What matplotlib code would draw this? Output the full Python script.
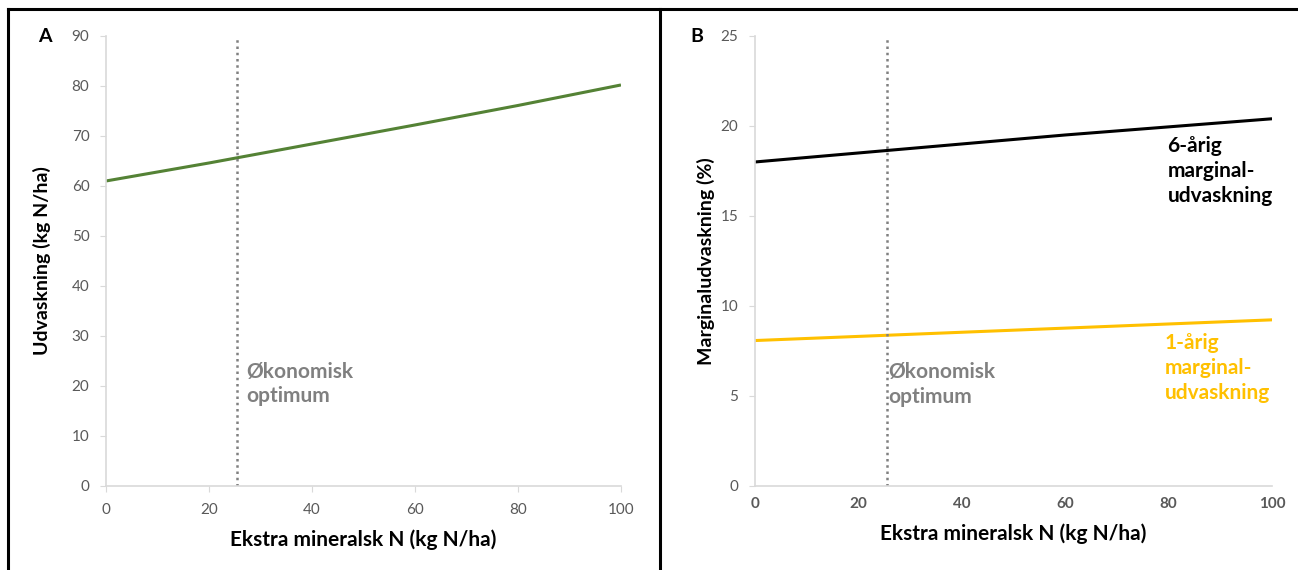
import matplotlib.pyplot as plt
from matplotlib.lines import Line2D

plt.rcParams["font.family"] = ["Lato", "DejaVu Sans"]

# ── Data ──────────────────────────────────────────────────────────────
n_extra = [0, 20, 40, 60, 80, 100]
udvaskning = [61.0, 64.6, 68.4, 72.2, 76.1, 80.2]
marginal_6aarig = [18.0, 18.5, 19.0, 19.5, 19.95, 20.4]
marginal_1aarig = [8.08, 8.31, 8.54, 8.77, 9.0, 9.23]
optimum_n = 25.5

tick_col = "#595959"
spine_col = "#d9d9d9"
green = "#548235"
yellow = "#ffc000"
dot_col = "#808080"

fig = plt.figure(figsize=(12.98, 5.70), dpi=100)

axA = fig.add_axes([0.0817, 0.1474, 0.3967, 0.7895])
axB = fig.add_axes([0.5817, 0.1474, 0.3983, 0.7895])


def _style(ax, xticks_visible=True, bold_x=False):
    for s in ["top", "right"]:
        ax.spines[s].set_visible(False)
    for s in ["left", "bottom"]:
        ax.spines[s].set_color(spine_col)
        ax.spines[s].set_linewidth(1.2)
    ax.tick_params(axis="y", colors=spine_col, labelcolor=tick_col, labelsize=11, length=4, pad=8)
    ax.tick_params(axis="x", colors=spine_col, labelcolor=tick_col, labelsize=11,
                   length=4 if xticks_visible else 0, pad=8)
    if bold_x:
        for lbl in ax.get_xticklabels():
            lbl.set_fontweight("bold")
    ax.set_xlim(0, 100)
    ax.set_xlabel("Ekstra mineralsk N (kg N/ha)", fontsize=15, fontweight="bold", labelpad=9)


note_kw = dict(fontsize=15, fontweight="bold", va="center", ha="left", linespacing=1.3)

# ── Panel A ───────────────────────────────────────────────────────────
axA.plot(n_extra, udvaskning, color=green, lw=2.2, solid_capstyle="butt")
axA.plot([optimum_n, optimum_n], [0, 90], color=dot_col, lw=1.8, ls=(0, (1, 1.5)))
axA.set_ylim(0, 90)
axA.set_yticks(range(0, 91, 10))
axA.set_xticks(range(0, 101, 20))
_style(axA)
axA.set_ylabel("Udvaskning (kg N/ha)", fontsize=14, fontweight="bold", labelpad=15)
axA.text(27.2, 20.4, "Økonomisk\noptimum", color=dot_col, **note_kw)

# ── Panel B ───────────────────────────────────────────────────────────
axB.plot(n_extra, marginal_6aarig, color="black", lw=2.2, solid_capstyle="butt")
axB.plot(n_extra, marginal_1aarig, color=yellow, lw=2.2, solid_capstyle="butt")
axB.plot([optimum_n, optimum_n], [0, 25], color=dot_col, lw=1.8, ls=(0, (1, 1.5)))
axB.set_ylim(0, 25)
axB.set_yticks(range(0, 26, 5))
axB.set_xticks(range(0, 101, 20))
_style(axB, xticks_visible=False, bold_x=True)
axB.set_ylabel("Marginaludvaskning (%)", fontsize=14, fontweight="bold", labelpad=4)
axB.text(25.8, 5.65, "Økonomisk\noptimum", color=dot_col, **note_kw)
axB.text(79.8, 17.5, "6-årig\nmarginal-\nudvaskning", color="black", **note_kw)
axB.text(79.2, 6.55, "1-årig\nmarginal-\nudvaskning", color=yellow, **note_kw)

# ── Panel letters and frame ───────────────────────────────────────────
fig.text(45 / 1298, 1 - 36 / 570, "A", fontsize=14, fontweight="bold", va="center", ha="center")
fig.text(697 / 1298, 1 - 36 / 570, "B", fontsize=14, fontweight="bold", va="center", ha="center")

top = 1 - 9 / 570
for xs, ys in [([8 / 1298, 1.0], [top, top]),
               ([8 / 1298, 8 / 1298], [0, top]),
               ([660 / 1298, 660 / 1298], [0, top])]:
    fig.add_artist(Line2D(xs, ys, color="black", lw=2.2, transform=fig.transFigure))

fig.savefig("out.png", dpi=100)
